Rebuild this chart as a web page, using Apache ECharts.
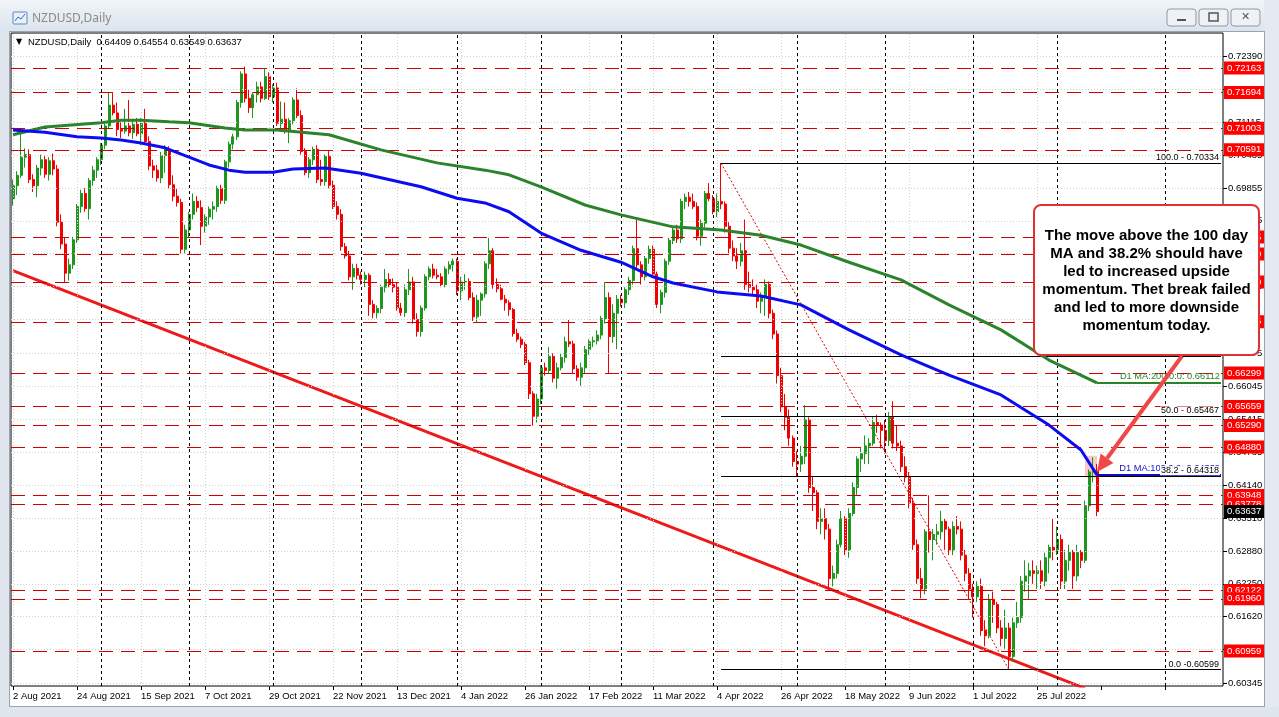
<!DOCTYPE html>
<html><head><meta charset="utf-8">
<script src="https://cdn.jsdelivr.net/npm/echarts@6/dist/echarts.min.js"></script>
<style>html,body{margin:0;padding:0;background:#fff;}#c{width:1279px;height:717px;}</style>
</head><body><div id="c"></div>
<script>
// ---------------- DATA ----------------
const tickLabels = ['2 Aug 2021','24 Aug 2021','15 Sep 2021','7 Oct 2021','29 Oct 2021','22 Nov 2021','13 Dec 2021','4 Jan 2022','26 Jan 2022','17 Feb 2022','11 Mar 2022','4 Apr 2022','26 Apr 2022','18 May 2022','9 Jun 2022','1 Jul 2022','25 Jul 2022'];
const priceTicks = [0.72390,0.71750,0.71115,0.70485,0.69855,0.69225,0.68595,0.67965,0.67335,0.66675,0.66045,0.65415,0.64785,0.64140,0.63510,0.62880,0.62250,0.61620,0.60990,0.60345];
// [open, high, low, close] one row per daily bar
const candles = [
[.6965,.7002,.6952,.6990],[.6990,.7018,.6972,.7010],[.7010,.7090,.7005,.7045],[.7045,.7062,.7025,.7050],[.7050,.7060,.6995,.7002],
[.7002,.7012,.6978,.6990],[.6990,.7030,.6968,.7024],[.7024,.7050,.7010,.7040],[.7040,.7048,.7005,.7012],[.7012,.7045,.7000,.7038],
[.7038,.7052,.7010,.7022],[.7022,.7030,.6912,.6920],[.6920,.6935,.6868,.6878],[.6878,.6890,.6805,.6822],[.6822,.6850,.6808,.6838],
[.6838,.6892,.6830,.6886],[.6886,.6955,.6880,.6950],[.6950,.6982,.6938,.6975],[.6975,.6985,.6940,.6946],[.6946,.7005,.6925,.7000],
[.7000,.7028,.6990,.7020],[.7020,.7045,.7005,.7040],[.7040,.7072,.7030,.7068],[.7068,.7110,.7060,.7105],[.7105,.7170,.7100,.7145],
[.7145,.7168,.7125,.7130],[.7130,.7150,.7085,.7098],[.7098,.7112,.7082,.7095],[.7095,.7138,.7090,.7105],[.7105,.7155,.7085,.7092],
[.7092,.7115,.7080,.7108],[.7108,.7120,.7085,.7090],[.7090,.7120,.7068,.7110],[.7110,.7138,.7070,.7075],[.7075,.7085,.7020,.7028],
[.7028,.7040,.7005,.7020],[.7020,.7030,.6998,.7005],[.7005,.7055,.6995,.7048],[.7048,.7068,.7015,.7060],[.7060,.7066,.6985,.6992],
[.6992,.7010,.6960,.6970],[.6970,.6985,.6950,.6958],[.6958,.6965,.6860,.6868],[.6868,.6915,.6860,.6905],[.6905,.6940,.6890,.6935],
[.6935,.6975,.6925,.6960],[.6960,.6970,.6940,.6948],[.6948,.6962,.6876,.6912],[.6912,.6935,.6900,.6930],[.6930,.6950,.6915,.6945],
[.6945,.6960,.6925,.6950],[.6950,.6990,.6940,.6985],[.6985,.6992,.6955,.6962],[.6962,.7040,.6955,.7036],[.7036,.7075,.7025,.7070],
[.7070,.7090,.7060,.7084],[.7084,.7155,.7078,.7150],[.7150,.7210,.7140,.7205],[.7205,.7219,.7150,.7158],[.7158,.7175,.7130,.7140],
[.7140,.7170,.7120,.7165],[.7165,.7190,.7150,.7180],[.7180,.7190,.7150,.7158],[.7158,.7216,.7155,.7200],[.7200,.7208,.7155,.7161],
[.7161,.7185,.7150,.7178],[.7178,.7188,.7105,.7110],[.7110,.7152,.7095,.7118],[.7118,.7150,.7090,.7097],[.7097,.7120,.7072,.7115],
[.7115,.7160,.7108,.7155],[.7155,.7177,.7120,.7125],[.7125,.7135,.7050,.7056],[.7056,.7062,.7010,.7015],[.7015,.7045,.7005,.7040],
[.7040,.7065,.7030,.7060],[.7060,.7068,.6995,.7002],[.7002,.7040,.6990,.6998],[.6998,.7050,.6990,.7046],[.7046,.7058,.6985,.6991],
[.6991,.7000,.6945,.6950],[.6950,.6960,.6925,.6935],[.6935,.6945,.6865,.6873],[.6873,.6880,.6850,.6855],[.6855,.6865,.6808,.6815],
[.6815,.6840,.6790,.6831],[.6831,.6840,.6810,.6818],[.6818,.6825,.6800,.6810],[.6810,.6825,.6795,.6818],[.6818,.6822,.6740,.6762],
[.6762,.6770,.6735,.6746],[.6746,.6760,.6735,.6754],[.6754,.6800,.6745,.6795],[.6795,.6830,.6785,.6810],[.6810,.6822,.6795,.6800],
[.6800,.6812,.6785,.6795],[.6795,.6805,.6750,.6755],[.6755,.6765,.6740,.6746],[.6746,.6800,.6738,.6790],[.6790,.6830,.6780,.6805],
[.6805,.6815,.6725,.6733],[.6733,.6745,.6700,.6710],[.6710,.6760,.6700,.6755],[.6755,.6820,.6750,.6815],[.6815,.6835,.6808,.6830],
[.6830,.6840,.6812,.6818],[.6818,.6830,.6810,.6815],[.6815,.6822,.6795,.6800],[.6800,.6835,.6795,.6830],[.6830,.6845,.6820,.6838],
[.6838,.6850,.6825,.6845],[.6845,.6850,.6780,.6788],[.6788,.6815,.6770,.6805],[.6805,.6820,.6790,.6806],[.6806,.6812,.6770,.6775],
[.6775,.6785,.6730,.6738],[.6738,.6780,.6728,.6770],[.6770,.6785,.6740,.6782],[.6782,.6845,.6775,.6840],[.6840,.6890,.6830,.6865],
[.6865,.6870,.6792,.6800],[.6800,.6812,.6785,.6792],[.6792,.6800,.6770,.6772],[.6772,.6780,.6750,.6765],[.6765,.6770,.6740,.6752],
[.6752,.6755,.6700,.6706],[.6706,.6715,.6690,.6695],[.6695,.6700,.6678,.6685],[.6685,.6690,.6645,.6650],[.6650,.6655,.6580,.6590],
[.6590,.6595,.6529,.6547],[.6547,.6590,.6535,.6580],[.6580,.6645,.6570,.6640],[.6640,.6650,.6625,.6635],[.6635,.6680,.6630,.6662],
[.6662,.6668,.6612,.6620],[.6620,.6650,.6600,.6640],[.6640,.6668,.6635,.6660],[.6660,.6700,.6650,.6690],[.6690,.6732,.6680,.6686],
[.6686,.6692,.6630,.6638],[.6638,.6645,.6615,.6622],[.6622,.6650,.6605,.6640],[.6640,.6682,.6630,.6675],[.6675,.6695,.6665,.6690],
[.6690,.6700,.6680,.6692],[.6692,.6712,.6685,.6703],[.6703,.6740,.6695,.6735],[.6735,.6805,.6725,.6775],[.6775,.6785,.6629,.6700],
[.6700,.6762,.6688,.6745],[.6745,.6780,.6676,.6772],[.6772,.6780,.6758,.6765],[.6765,.6795,.6755,.6790],[.6790,.6815,.6780,.6808],
[.6808,.6875,.6800,.6869],[.6869,.6924,.6830,.6838],[.6838,.6845,.6800,.6815],[.6815,.6855,.6808,.6850],[.6850,.6875,.6840,.6868],
[.6868,.6875,.6815,.6820],[.6820,.6825,.6755,.6762],[.6762,.6790,.6745,.6785],[.6785,.6850,.6775,.6845],[.6845,.6890,.6838,.6885],
[.6885,.6910,.6878,.6905],[.6905,.6915,.6880,.6888],[.6888,.6965,.6880,.6960],[.6960,.6975,.6945,.6968],[.6968,.6978,.6950,.6960],
[.6960,.6975,.6945,.6950],[.6950,.6958,.6885,.6893],[.6893,.6925,.6875,.6918],[.6918,.6980,.6910,.6975],[.6975,.6995,.6960,.6965],
[.6965,.6972,.6935,.6940],[.6940,.6975,.6930,.6960],[.6960,.7034,.6945,.6955],[.6955,.6960,.6900,.6912],[.6912,.6920,.6860,.6870],
[.6870,.6885,.6845,.6855],[.6855,.6870,.6830,.6845],[.6845,.6880,.6835,.6865],[.6865,.6925,.6790,.6800],[.6800,.6825,.6785,.6795],
[.6795,.6810,.6780,.6790],[.6790,.6800,.6755,.6768],[.6768,.6785,.6745,.6775],[.6775,.6810,.6740,.6800],[.6800,.6806,.6735,.6745],
[.6745,.6752,.6695,.6705],[.6705,.6712,.6610,.6625],[.6625,.6640,.6555,.6565],[.6565,.6590,.6520,.6545],[.6545,.6560,.6490,.6505],
[.6505,.6510,.6450,.6460],[.6460,.6480,.6430,.6455],[.6455,.6490,.6440,.6470],[.6470,.6568,.6455,.6540],[.6540,.6545,.6400,.6410],
[.6410,.6430,.6365,.6400],[.6400,.6405,.6330,.6345],[.6345,.6370,.6320,.6350],[.6350,.6370,.6310,.6330],[.6330,.6340,.6215,.6235],
[.6235,.6260,.6220,.6245],[.6245,.6310,.6235,.6300],[.6300,.6365,.6295,.6350],[.6350,.6355,.6280,.6290],[.6290,.6370,.6275,.6360],
[.6360,.6420,.6355,.6410],[.6410,.6470,.6395,.6465],[.6465,.6488,.6440,.6475],[.6475,.6510,.6455,.6490],[.6490,.6505,.6455,.6495],
[.6495,.6545,.6490,.6535],[.6535,.6550,.6515,.6530],[.6530,.6535,.6485,.6520],[.6520,.6540,.6475,.6500],[.6500,.6555,.6490,.6545],
[.6545,.6576,.6485,.6495],[.6495,.6530,.6480,.6490],[.6490,.6500,.6440,.6450],[.6450,.6470,.6420,.6430],[.6430,.6440,.6370,.6380],
[.6380,.6390,.6290,.6300],[.6300,.6310,.6225,.6235],[.6235,.6255,.6197,.6215],[.6215,.6330,.6205,.6325],[.6325,.6395,.6285,.6310],
[.6310,.6330,.6270,.6320],[.6320,.6340,.6300,.6325],[.6325,.6365,.6310,.6345],[.6345,.6350,.6290,.6330],[.6330,.6335,.6280,.6290],
[.6290,.6345,.6280,.6335],[.6335,.6355,.6320,.6330],[.6330,.6345,.6270,.6280],[.6280,.6290,.6230,.6245],[.6245,.6255,.6195,.6215],
[.6215,.6225,.6160,.6200],[.6200,.6230,.6190,.6220],[.6220,.6235,.6125,.6135],[.6135,.6155,.6105,.6125],[.6125,.6205,.6120,.6195],
[.6195,.6210,.6150,.6185],[.6185,.6190,.6130,.6140],[.6140,.6155,.6105,.6120],[.6120,.6175,.6100,.6140],[.6140,.6150,.6060,.6085],
[.6085,.6160,.6075,.6150],[.6150,.6190,.6140,.6160],[.6160,.6240,.6150,.6230],[.6230,.6270,.6210,.6240],[.6240,.6265,.6195,.6250],
[.6250,.6270,.6225,.6245],[.6245,.6260,.6215,.6250],[.6250,.6270,.6215,.6230],[.6230,.6285,.6220,.6275],[.6275,.6300,.6245,.6295],
[.6295,.6350,.6270,.6290],[.6290,.6335,.6280,.6310],[.6310,.6320,.6215,.6230],[.6230,.6290,.6215,.6270],[.6270,.6300,.6250,.6285],
[.6285,.6290,.6215,.6240],[.6240,.6300,.6230,.6285],[.6285,.6290,.6255,.6270],[.6270,.6385,.6265,.6375],[.6375,.6445,.6365,.6440],
[.6440,.6468,.6420,.6445],[.64409,.64554,.63549,.63637]
];
// moving averages read at [bar, value]
const ma100 = [[0,.7097],[8,.7093],[16,.7084],[22,.7082],[27,.7078],[32,.7072],[38,.7063],[44,.7045],[49,.7030],[54,.7020],[58,.7016],[65,.7016],[70,.7022],[78,.7024],[87,.7014],[102,.6988],[111,.6966],[118,.6957],[124,.6940],[132,.6899],[142,.6866],[152,.6843],[160,.6815],[165,.6803],[176,.6786],[187,.6778],[197,.6761],[209,.6713],[222,.6665],[234,.6626],[247,.6588],[259,.6530],[267,.6482],[271,.6434]];
const ma200 = [[0,.7088],[8,.7103],[22,.7111],[27,.7116],[32,.7116],[39,.7113],[44,.7111],[53,.7101],[58,.7097],[66,.7097],[79,.7088],[92,.7059],[106,.7034],[118,.7020],[124,.7011],[132,.6988],[143,.6953],[152,.6934],[165,.6911],[177,.6905],[187,.6895],[197,.6876],[209,.6843],[222,.6809],[234,.6761],[247,.6713],[259,.6655],[271,.6611]];
const redLevels = [0.72163,0.71694,0.71003,0.70591,0.68915,0.68590,0.68050,0.67285,0.66299,0.65659,0.65290,0.64880,0.63948,0.63778,0.62122,0.61960,0.60959];
const fibValues = [0.70334,0.66615,0.65467,0.64318,0.60599];
const fibLabels = ['100.0 - 0.70334','61.8 - 0.66615','50.0 - 0.65467','38.2 - 0.64318','0.0 -0.60599'];
const fibStartBar = 177, fibEndBar = 249;
const trendLine = [[0,0.6827],[268,0.6024]];
const monthStarts = [22,44,65,87,111,132,152,175,196,218,240,261,288];
const lastPrice = 0.63637;
const maLabels = ['D1 MA:200:0:0: 0.66112','D1 MA:100:0:0: 0.64339'];
const pinkBox = [268,271,0.6471,0.6429];
const arrowTarget = [271,0.6440];
const infoText = 'NZDUSD,Daily  0.64409 0.64554 0.63549 0.63637';
const noteLines = ['The move above the 100 day','MA and 38.2% should have','led to increased upside','momentum. Thet break failed','and led to more downside','momentum today.'];

// ---------------- CHART ----------------
const N = 303;
const yMin = 0.60285, yMax = 0.72836;
const FONT = '"Liberation Sans", Arial, sans-serif';
const cats = Array.from({length:N}, (_, i) => String(i));
const GREEN = '#1d961d', RED = '#f00000';
const noLbl = {show:false};
const mlBase = {symbol:['none','none'], silent:true, animation:false, precision:5};
const boxLabel = (bg) => ({show:true, position:'end', formatter:p=>Number(p.value).toFixed(5), backgroundColor:bg, color:'#fff', padding:[2,3,1,3], fontSize:9.5, fontFamily:FONT, distance:1});

const option = {
  animation:false,
  backgroundColor:'#ffffff',
  grid:{left:11, top:33, width:4*N, height:653, show:true, borderColor:'#000', borderWidth:1, backgroundColor:'#fff'},
  xAxis:{type:'category', data:cats, boundaryGap:true,
    axisLine:{show:false},
    axisTick:{show:true, interval:15, alignWithLabel:true, length:4, lineStyle:{color:'#000'}},
    axisLabel:{interval:15, formatter:(v,i)=> tickLabels[i/16] || '', align:'left', margin:5, fontSize:9.5, color:'#000', fontFamily:FONT},
    splitLine:{show:false}},
  yAxis:{type:'value', position:'right', min:yMin, max:yMax,
    axisLine:{show:false},
    axisTick:{show:true, customValues:priceTicks, length:4, lineStyle:{color:'#000'}},
    axisLabel:{customValues:priceTicks, formatter:v=>v.toFixed(5), margin:5, fontSize:9.5, color:'#000', fontFamily:FONT},
    splitLine:{show:false}},
  series:[
    {type:'line', data:[], z:1, markLine:Object.assign({}, mlBase, {label:noLbl,
      lineStyle:{color:'#d0d0d0', type:[1,2], width:1},
      data:[...priceTicks.map(v=>({yAxis:v})), ...tickLabels.map((t,k)=>({xAxis:String(k*16)}))]})},
    {type:'line', data:[], z:2, markLine:Object.assign({}, mlBase, {label:noLbl,
      lineStyle:{color:'#000', type:[3,3], width:1},
      data:monthStarts.map(b=>({xAxis:String(b)}))})},
    {type:'line', data:[], z:3, markLine:Object.assign({}, mlBase, {label:noLbl,
      lineStyle:{color:'#000', type:'solid', width:1},
      data:fibValues.map(v=>[{coord:[String(fibStartBar), v]},{coord:[String(N-1), v]}])})},
    {type:'line', data:[[fibStartBar, fibValues[0]],[fibEndBar, fibValues[fibValues.length-1]]], z:3, symbol:'none',
      lineStyle:{color:'#e00000', width:1, type:[2,2]}},
    {type:'line', data:[], z:3, markLine:Object.assign({}, mlBase, {
      lineStyle:{color:'#d00000', type:[14,8], width:1},
      label:boxLabel('#ff0000'),
      data:redLevels.map(v=>({yAxis:v}))})},
    {type:'line', data:trendLine, z:3, symbol:'none', lineStyle:{color:'#ee1a1a', width:3}},
    {type:'candlestick', data:candles.map(r=>[r[0], r[3], r[2], r[1]]), z:4, barWidth:2.5,
      itemStyle:{color:GREEN, color0:RED, borderColor:GREEN, borderColor0:RED, borderWidth:1},
      markArea:{silent:true, itemStyle:{color:'#f7caca'}, data:[[{coord:[String(pinkBox[0]), pinkBox[2]]},{coord:[String(pinkBox[1]), pinkBox[3]]}]]}},
    {type:'line', data:ma200, z:5, symbol:'none', lineStyle:{color:'#2b832b', width:3},
      markLine:Object.assign({}, mlBase, {label:noLbl, lineStyle:{color:'#2b832b', width:2, type:'solid'},
        data:[[{coord:[String(ma200[ma200.length-1][0]), ma200[ma200.length-1][1]]},{coord:[String(N-1), ma200[ma200.length-1][1]]}]]})},
    {type:'line', data:ma100, z:5, symbol:'none', lineStyle:{color:'#0c0cf0', width:3},
      markLine:Object.assign({}, mlBase, {label:noLbl, lineStyle:{color:'#0c0cc0', width:2, type:'solid'},
        data:[[{coord:[String(ma100[ma100.length-1][0]), ma100[ma100.length-1][1]]},{coord:[String(N-1), ma100[ma100.length-1][1]]}]]})},
    {type:'line', data:[], z:6, markLine:Object.assign({}, mlBase, {
      lineStyle:{color:'rgba(0,0,0,0)', width:0},
      label:boxLabel('#000'),
      data:[{yAxis:lastPrice}]})}
  ]
};

const chart = echarts.init(document.getElementById('c'));
chart.setOption(option);

const px = (i, v) => chart.convertToPixel({xAxisIndex:0, yAxisIndex:0}, [String(i), v]);
const rightX = 11 + 4*N - 3;
const g = [];
// window chrome
g.push({type:'rect', shape:{x:0,y:0,width:10,height:717}, style:{fill:'#dfe6ee'}, z:50});
g.push({type:'line', shape:{x1:9.5,y1:31,x2:9.5,y2:707}, style:{stroke:'#9aa4b0', lineWidth:1}, z:51});
g.push({type:'rect', shape:{x:0,y:0,width:1279,height:32}, style:{fill:new echarts.graphic.LinearGradient(0,0,0,1,[{offset:0,color:'#f1f5f9'},{offset:1,color:'#dbe3ec'}])}, z:50});
g.push({type:'line', shape:{x1:9,y1:31.5,x2:1265,y2:31.5}, style:{stroke:'#9aa4b0', lineWidth:1}, z:51});
g.push({type:'rect', shape:{x:1264,y:0,width:15,height:717}, style:{fill:'#e5eaf0'}, z:50});
g.push({type:'line', shape:{x1:1264.5,y1:31,x2:1264.5,y2:707}, style:{stroke:'#9aa4b0', lineWidth:1}, z:51});
g.push({type:'rect', shape:{x:0,y:707,width:1279,height:10}, style:{fill:'#dfe6ee'}, z:50});
g.push({type:'line', shape:{x1:9,y1:706.5,x2:1265,y2:706.5}, style:{stroke:'#9aa4b0', lineWidth:1}, z:51});
g.push({type:'rect', shape:{x:13,y:12,width:14,height:12,r:1}, style:{fill:'#e8f0fa', stroke:'#5b87c4', lineWidth:1}, z:52});
g.push({type:'polyline', shape:{points:[[15,21],[18,17],[21,19],[25,14]]}, style:{stroke:'#3c6fb5', lineWidth:1, fill:null}, z:53});
g.push({type:'text', style:{text:'NZDUSD,Daily', x:32, y:19, textVerticalAlign:'middle', font:'12px "Noto Sans", "DejaVu Sans", sans-serif', fill:'#8a8a8a'}, z:52});
[[1167,'min'],[1199,'max'],[1231,'close']].forEach(([x,kind])=>{
  g.push({type:'rect', shape:{x:x,y:9,width:29,height:17,r:3}, style:{fill:'#eef2f6', stroke:'#8e99a7', lineWidth:1}, z:52});
  if(kind==='min') g.push({type:'rect', shape:{x:x+10,y:19,width:9,height:2}, style:{fill:'#555'}, z:53});
  if(kind==='max') g.push({type:'rect', shape:{x:x+10,y:13,width:9,height:8}, style:{fill:'none', stroke:'#555', lineWidth:1.5}, z:53});
  if(kind==='close') g.push({type:'text', style:{text:'✕', x:x+14.5, y:17.5, textAlign:'center', textVerticalAlign:'middle', font:'11px "DejaVu Sans"', fill:'#555'}, z:53});
});
// info text
g.push({type:'text', style:{text:'▼', x:16, y:42, textVerticalAlign:'middle', font:'8px "DejaVu Sans"', fill:'#000'}, z:20});
g.push({type:'text', style:{text:infoText, x:28, y:42, textVerticalAlign:'middle', font:'9.5px '+FONT, fill:'#000'}, z:20});
// fib labels
fibValues.forEach((v,k)=>{
  const p = px(fibStartBar, v);
  g.push({type:'text', style:{text:fibLabels[k], x:rightX, y:p[1]-1, textAlign:'right', textVerticalAlign:'bottom', font:'9px '+FONT, fill:'#000', backgroundColor:'#fff', padding:[0,1,0,1]}, z:21});
});
// MA labels
[[ma200, maLabels[0], '#2b832b'], [ma100, maLabels[1], '#1010d0']].forEach(([arr, txt, col])=>{
  const p = px(arr[arr.length-1][0], arr[arr.length-1][1]);
  g.push({type:'text', style:{text:txt, x:rightX, y:p[1]-2, textAlign:'right', textVerticalAlign:'bottom', font:'9.3px '+FONT, fill:col}, z:20});
});
// annotation
g.push({type:'rect', shape:{x:1034,y:205,width:225,height:150,r:7}, style:{fill:'#fff', stroke:'#e03232', lineWidth:2}, z:100});
g.push({type:'text', style:{text:noteLines.join('\n'), x:1146.5, y:281, textAlign:'center', textVerticalAlign:'middle', font:'bold 15px '+FONT, lineHeight:18, fill:'#000'}, z:101});
const tip = px(arrowTarget[0], arrowTarget[1]);
const start = [1182, 356];
const dx = tip[0]-start[0], dy = tip[1]-start[1], L = Math.hypot(dx,dy), ux = dx/L, uy = dy/L;
const hb = [tip[0]-ux*17, tip[1]-uy*17];
g.push({type:'line', shape:{x1:start[0],y1:start[1],x2:hb[0],y2:hb[1]}, style:{stroke:'#f04848', lineWidth:4}, z:102});
g.push({type:'polygon', shape:{points:[tip,[hb[0]-uy*8,hb[1]+ux*8],[hb[0]+uy*8,hb[1]-ux*8]]}, style:{fill:'#f04848'}, z:102});
chart.setOption({graphic:g});
</script>
</body></html>
